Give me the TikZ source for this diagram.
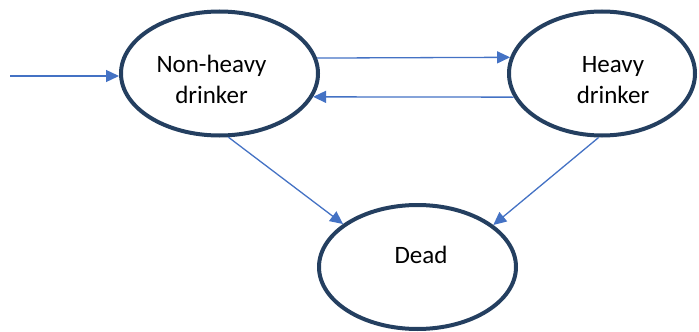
\documentclass[tikz,border=0pt]{standalone}
\usepackage{fontspec}
\setmainfont{Carlito}
\usetikzlibrary{shapes.geometric,arrows.meta}
\definecolor{ringcol}{RGB}{36,63,96}
\definecolor{arrcol}{RGB}{68,114,196}
\begin{document}
\begin{tikzpicture}[x=1pt,y=-1pt,
  state/.style={ellipse,draw=ringcol,line width=4pt,minimum width=#1,minimum height=124pt,inner sep=0pt},
  lbl/.style={align=center,font=\fontsize{25}{31}\selectfont,inner sep=0pt,anchor=base},
  conn/.style={draw=arrcol,line width=1.3pt,-{Triangle[length=13pt,width=12pt]}}]
\useasboundingbox (0,0) rectangle (699,332);
\node[state=197pt] (nh) at (219.5,73.5) {};
\node[state=186pt] (hv) at (602,73.5) {};
\node[state=197pt] (dd) at (417.5,267) {};
\node[lbl] (nht) at (211.5,103) {Non-heavy\\drinker};
\node[lbl] (hvt) at (613,103) {Heavy\\drinker};
\node[lbl] (ddt) at (421,263) {Dead};
\coordinate (st) at (10,76);
\draw[conn] (st) -- (st -| nh.west);
\draw[conn] (nh.9) -- (hv.170.5);
\draw[conn] (hv.195) -- (nh.-14.2);
\draw[conn] (nh.-82) -- (dd.150);
\draw[conn] (hv.-93) -- (dd.29);
\end{tikzpicture}
\end{document}
